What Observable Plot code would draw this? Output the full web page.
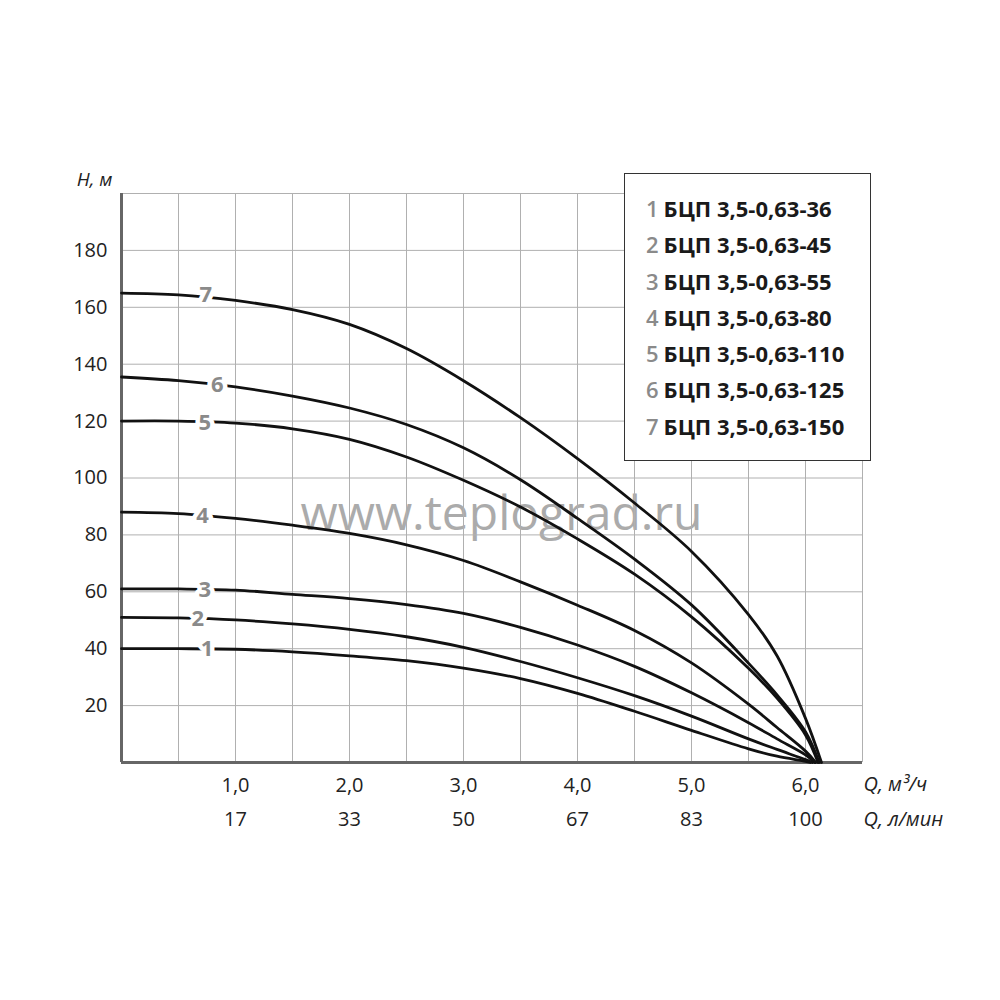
<!DOCTYPE html>
<html>
<head>
<meta charset="utf-8">
<script src="https://cdn.jsdelivr.net/npm/d3@7"></script>
<script src="https://cdn.jsdelivr.net/npm/@observablehq/plot@0.6"></script>
<style>
  html, body { margin: 0; padding: 0; background: #fff; }
  #wrap { position: relative; width: 1000px; height: 1000px; font-family: "Open Sans", sans-serif; }
  #wm { position: absolute; left: 0; width: 1003px; top: 479px; text-align: center; font-size: 48px; color: #ababab; z-index: 0; }
  #chart { position: absolute; left: 0; top: 0; z-index: 1; }
  #legend { position: absolute; left: 624px; top: 173px; width: 247px; height: 288px; border: 1.5px solid #333; background: #fff; z-index: 2; padding-top: 16px; padding-left: 21px; box-sizing: border-box; }
  #legend div { height: 36.3px; line-height: 36.3px; font-size: 22px; font-weight: 700; color: #1a1a1a; white-space: nowrap; }
  #legend span { color: #8a8a8a; font-weight: 600; margin-right: 5px; }
</style>
</head>
<body>
<div id="wrap">
  <div id="wm">www.teplograd.ru</div>
  <div id="chart"></div>
  <div id="legend"></div>
</div>
<script>
// Flow Q (м³/ч) sampling points
const qGrid = [0, 0.5, 1, 1.5, 2, 2.5, 3, 3.5, 4, 4.5, 5, 5.5, 5.75, 6];
// Head H (м) for each pump at the Q points above
const h1 = [40, 40, 39.8, 38.9, 37.5, 35.8, 33.2, 29.5, 24.3, 18, 11.3, 4.8, 2.2, 0.4];
const h2 = [51, 50.8, 50.1, 48.7, 46.8, 44.2, 40.5, 35.5, 29.8, 23.5, 16.3, 8.3, 4.6, 1.0];
const h3 = [61, 61, 60.6, 59.1, 57.6, 55.5, 52.4, 47.5, 41.3, 33.8, 24.5, 14, 8.3, 2.7];
const h4 = [88, 87.5, 85.8, 83.4, 80.5, 76.5, 71, 63.5, 55.3, 46.4, 35, 20.5, 12.3, 4];
const h5 = [120, 120, 119.3, 117.3, 113.6, 107.4, 99.2, 89.8, 78.6, 66.2, 51.2, 33.1, 22.6, 9.7];
const h6 = [135.5, 134.2, 132, 128.8, 124.6, 118.8, 110.6, 99.4, 85.8, 71.5, 55.4, 34.9, 23.8, 10.8];
const h7 = [165, 164.4, 162.4, 159.2, 154, 145.5, 134.2, 121.2, 106.8, 91.2, 74.2, 52, 37.5, 15.5];
// Q where each curve reaches H = 0
const qEnd = [6.04, 6.06, 6.08, 6.09, 6.11, 6.12, 6.14];

// Curve number labels (position on the curve)
const curveIds = ["1", "2", "3", "4", "5", "6", "7"];
const labelQ = [0.75, 0.67, 0.73, 0.71, 0.73, 0.84, 0.74];
const labelH = [40, 50.5, 60.8, 86.8, 119.5, 132.8, 164.2];

// Legend names
const pumpNames = ["БЦП 3,5-0,63-36", "БЦП 3,5-0,63-45", "БЦП 3,5-0,63-55", "БЦП 3,5-0,63-80",
                   "БЦП 3,5-0,63-110", "БЦП 3,5-0,63-125", "БЦП 3,5-0,63-150"];

// Axis ticks
const yTicks = [20, 40, 60, 80, 100, 120, 140, 160, 180];
const xTicks = [1, 2, 3, 4, 5, 6];
const xLabelsM3 = ["1,0", "2,0", "3,0", "4,0", "5,0", "6,0"];
const xLabelsLpm = ["17", "33", "50", "67", "83", "100"];
const yAxisTitle = "H, м";
const xTitleM3 = "Q, м³/ч";
const xTitleLpm = "Q, л/мин";
const watermark = "www.teplograd.ru";

const series = [h1, h2, h3, h4, h5, h6, h7];
const rows = [];
series.forEach((hs, i) => {
  qGrid.forEach((q, j) => rows.push({id: curveIds[i], q, h: hs[j]}));
  rows.push({id: curveIds[i], q: qEnd[i], h: 0});
});
const labels = curveIds.map((id, i) => ({id, q: labelQ[i], h: labelH[i]}));

const chart = Plot.plot({
  width: 1000,
  height: 1000,
  marginLeft: 121,
  marginRight: 138,
  marginTop: 193,
  marginBottom: 238,
  style: {fontFamily: "Open Sans, sans-serif", fontSize: "20px", background: "transparent", color: "#222"},
  x: {domain: [0, 6.5]},
  y: {domain: [0, 200]},
  marks: [
    Plot.gridX({interval: 0.5, stroke: "#b0b0b0", strokeOpacity: 1, strokeWidth: 1}),
    Plot.gridY({interval: 20, stroke: "#b0b0b0", strokeOpacity: 1, strokeWidth: 1}),
    Plot.ruleX([0], {stroke: "#666", strokeWidth: 3}),
    Plot.ruleY([0], {stroke: "#666", strokeWidth: 3}),
    Plot.axisY({ticks: yTicks, tickSize: 0, tickPadding: 14, label: null, fill: "#222", fontSize: 20}),
    Plot.axisX({ticks: xTicks, tickFormat: (d) => xLabelsM3[xTicks.indexOf(d)], tickSize: 0, tickPadding: 15, label: null, fill: "#222", fontSize: 20}),
    Plot.axisX({ticks: xTicks, tickFormat: (d) => xLabelsLpm[xTicks.indexOf(d)], tickSize: 0, tickPadding: 49, label: null, fill: "#222", fontSize: 20}),
    Plot.text([yAxisTitle], {frameAnchor: "top-left", textAnchor: "end", dx: -9, dy: -8, lineAnchor: "bottom", fontStyle: "italic", fontSize: 19, fill: "#222"}),
    Plot.text([xTitleM3], {frameAnchor: "bottom-right", textAnchor: "start", lineAnchor: "top", dx: 1, dy: 14, fontStyle: "italic", fontSize: 20, fill: "#222"}),
    Plot.text([xTitleLpm], {frameAnchor: "bottom-right", textAnchor: "start", lineAnchor: "top", dx: 1, dy: 49, fontStyle: "italic", fontSize: 20, fill: "#222"}),
    Plot.line(rows, {x: "q", y: "h", z: "id", stroke: "#111", strokeWidth: 2.8, curve: "catmull-rom"}),
    Plot.text(labels, {x: "q", y: "h", text: "id", fill: "#8a8a8a", stroke: "white", strokeWidth: 9, fontWeight: "bold", fontSize: 22})
  ]
});
document.getElementById("chart").appendChild(chart);
document.getElementById("wm").textContent = watermark;

const legend = document.getElementById("legend");
pumpNames.forEach((name, i) => {
  const row = document.createElement("div");
  const num = document.createElement("span");
  num.textContent = curveIds[i];
  row.appendChild(num);
  row.appendChild(document.createTextNode(name));
  legend.appendChild(row);
});
</script>
</body>
</html>
